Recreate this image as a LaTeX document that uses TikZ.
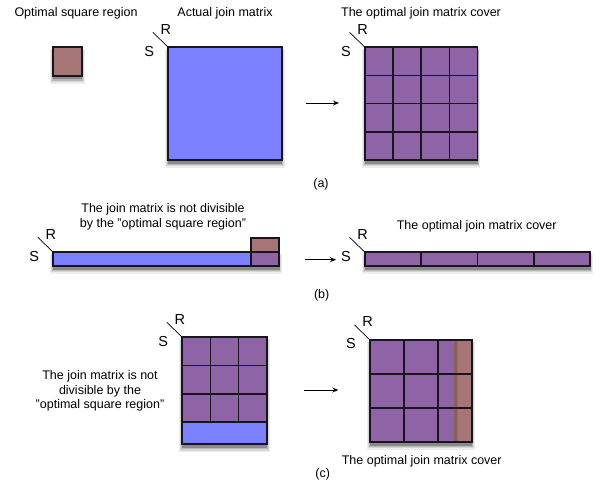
\documentclass[tikz,border=0pt]{standalone}
\usepackage{fontspec}
\setmainfont{Liberation Sans}
\usetikzlibrary{arrows.meta,calc}
\definecolor{bluec}{HTML}{7B80FF}
\definecolor{purplec}{HTML}{8E64A6}
\definecolor{brownc}{HTML}{A67676}
\definecolor{edgec}{HTML}{1A1420}
\definecolor{shA}{HTML}{EEEEEE}
\definecolor{shB}{HTML}{D6D6D6}
\definecolor{shC}{HTML}{B8B8B8}
\definecolor{shD}{HTML}{8A8A8A}
\tikzset{
  box/.style={draw=edgec,line width=1.7pt,inner sep=0pt,outer sep=0pt,anchor=north west},
  plainbox/.style={inner sep=0pt,outer sep=0pt,anchor=north west},
  outline/.style={draw=edgec,line width=1.7pt},
  gridline/.style={draw=edgec,line width=1.6pt},
  rsline/.style={draw=black,line width=0.7pt},
  rslab/.style={font=\fontsize{14.5}{16}\selectfont,inner sep=0pt},
  txt/.style={font=\fontsize{12.5}{14.6}\selectfont,inner sep=0pt,align=center},
  arr/.style={draw=black,line width=0.9pt,-{Stealth[length=6pt,width=5pt]}},
}
% #1 top-left coordinate, #2 bottom-right coordinate
\newcommand\boxshadow[2]{%
  \path[fill=shA] ([shift={(-3pt,-2pt)}]#1) rectangle ([shift={(3pt,-8pt)}]#2);
  \path[fill=shB] ([shift={(-2pt,-2.5pt)}]#1) rectangle ([shift={(2pt,-6.5pt)}]#2);
  \path[fill=shC] ([shift={(-1pt,-3pt)}]#1) rectangle ([shift={(1.2pt,-5pt)}]#2);
  \path[fill=shD] ([shift={(0pt,-3pt)}]#1) rectangle ([shift={(0.5pt,-3.8pt)}]#2);}
\newcommand\RSmark[2]{%
  \coordinate (#1-rs) at ($(#2)+(-15.5,-15)$);
  \draw[rsline] (#1-rs) -- (#2);
  \node[rslab] (#1-R) at ($(#2)+(-2.5,-18)$) {R};
  \node[rslab] (#1-S) at ($(#2)+(-19,4)$) {S};}
\begin{document}
\begin{tikzpicture}[x=1pt,y=-1pt]
\useasboundingbox (0,0) rectangle (608,486);
% ---------------- (a)
\node[txt] (ta1) at (76,13) {Optimal square region};
\node[txt] (ta2) at (225,13) {Actual join matrix};
\node[txt] (ta3) at (421,13) {The optimal join matrix cover};
\coordinate (osqA) at (53.3,47.3);   \coordinate (osqB) at (81.7,75.7);
\boxshadow{osqA}{osqB}
\node[box,fill=brownc,minimum width=28.4pt,minimum height=28.4pt] (osq) at (osqA) {};
\coordinate (ajmA) at (168.3,47.3);  \coordinate (ajmB) at (281.7,160);
\boxshadow{ajmA}{ajmB}
\node[box,fill=bluec,minimum width=113.4pt,minimum height=112.7pt] (ajm) at (ajmA) {};
\RSmark{a1}{ajm.north west}
\coordinate (covA) at (365,47.3);    \coordinate (covB) at (477.4,160);
\boxshadow{covA}{covB}
\node[box,fill=purplec,minimum width=112.4pt,minimum height=112.7pt] (cov) at (covA) {};
\foreach \f in {0.25,0.5,0.75} {
  \draw[gridline] ($(cov.north west)!\f!(cov.north east)$) -- ($(cov.south west)!\f!(cov.south east)$);
  \draw[gridline] ($(cov.north west)!\f!(cov.south west)$) -- ($(cov.north east)!\f!(cov.south east)$);
}
\RSmark{a2}{cov.north west}
\coordinate (aa1) at (306,103);
\coordinate (aa2) at (339,103);
\draw[arr] (aa1) -- (aa2);
\node[txt] (la) at (321,184) {(a)};
% ---------------- (b)
\node[txt] (tb1) at (163,217) {The join matrix is not divisible\\by the "optimal square region"};
\coordinate (barA) at (53.3,252.3);  \coordinate (barB) at (279,266);
\boxshadow{barA}{barB}
\node[box,fill=bluec,minimum width=225.7pt,minimum height=13.7pt] (bar) at (barA) {};
\node[box,fill=brownc,minimum width=28.3pt,minimum height=28.3pt] (osq2) at (250.7,237.7) {};
\fill[purplec] (osq2.south west) rectangle (bar.north east);
\draw[outline] (bar.north west) rectangle (bar.south east);
\draw[outline] (osq2.north west) rectangle (osq2.south east);
\RSmark{b1}{bar.north west}
\coordinate (ba1) at (305,259.7);
\coordinate (ba2) at (336,259.7);
\draw[arr] (ba1) -- (ba2);
\node[txt] (tb2) at (476.7,226.7) {The optimal join matrix cover};
\coordinate (bar2A) at (365,252.3);  \coordinate (bar2B) at (590,266);
\boxshadow{bar2A}{bar2B}
\node[box,fill=purplec,minimum width=225pt,minimum height=13.7pt] (bar2) at (bar2A) {};
\foreach \f in {0.25,0.5,0.75} {
  \draw[gridline] ($(bar2.north west)!\f!(bar2.north east)$) -- ($(bar2.south west)!\f!(bar2.south east)$);
}
\RSmark{b2}{bar2.north west}
\node[txt] (lb) at (321.7,295) {(b)};
% ---------------- (c)
\node[txt] (tc1) at (100,391) {The join matrix is not\\divisible by the\\"optimal square region"};
\coordinate (matA) at (182.3,337.3); \coordinate (matB) at (266.7,444);
\boxshadow{matA}{matB}
\node[box,fill=purplec,minimum width=84.4pt,minimum height=84.7pt] (matp) at (matA) {};
\node[box,fill=bluec,minimum width=84.4pt,minimum height=22pt] (matb) at (182.3,422) {};
\foreach \f in {0.3333,0.6667} {
  \draw[gridline] ($(matp.north west)!\f!(matp.north east)$) -- ($(matp.south west)!\f!(matp.south east)$);
  \draw[gridline] ($(matp.north west)!\f!(matp.south west)$) -- ($(matp.north east)!\f!(matp.south east)$);
}
\draw[outline] (matp.north west) rectangle (matb.south east);
\RSmark{c1}{matp.north west}
\coordinate (ca1) at (304,390);
\coordinate (ca2) at (338.3,390);
\draw[arr] (ca1) -- (ca2);
\coordinate (covrA) at (370,340);    \coordinate (covrB) at (471.7,441.7);
\boxshadow{covrA}{covrB}
\node[plainbox,fill=brownc,minimum width=101.7pt,minimum height=101.7pt] (covr) at (covrA) {};
\fill[black,fill opacity=0.08] (covr.north west) rectangle ([shift={(88pt,0pt)}]covr.south west);
\fill[black,fill opacity=0.10] (covr.north west) rectangle ([shift={(86.5pt,0pt)}]covr.south west);
\node[plainbox,fill=purplec,minimum width=84.3pt,minimum height=101.7pt] (covp) at (covrA) {};
\foreach \f in {0.3333,0.6667} {
  \draw[gridline] ($(covr.north west)!\f!(covr.north east)$) -- ($(covr.south west)!\f!(covr.south east)$);
  \draw[gridline] ($(covr.north west)!\f!(covr.south west)$) -- ($(covr.north east)!\f!(covr.south east)$);
}
\draw[outline] (covr.north west) rectangle (covr.south east);
\RSmark{c2}{covr.north west}
\node[txt] (tc2) at (421.7,461.7) {The optimal join matrix cover};
\node[txt] (lc) at (322.7,474) {(c)};
\end{tikzpicture}
\end{document}
